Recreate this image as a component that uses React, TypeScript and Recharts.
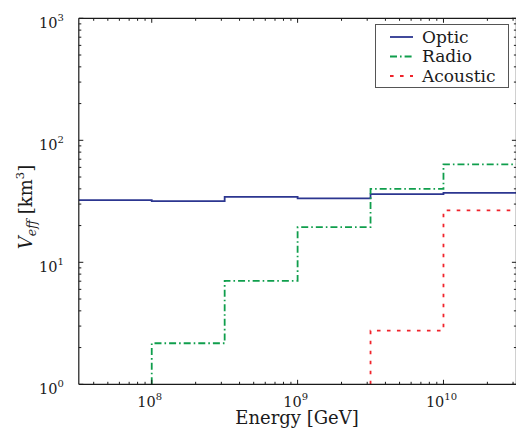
import { Customized, Legend, Line, LineChart, XAxis, YAxis } from "recharts";

// bin edges of the energy histogram [GeV]
const binEdges = [3.162e7, 1e8, 3.162e8, 1e9, 3.162e9, 1e10, 3.162e10];

// effective volume per bin [km^3], null = no entry
const opticVeff = [32.3, 31.7, 34.4, 33.4, 36.2, 37.1];
const radioVeff = [null, 2.17, 7.05, 19.4, 40.0, 63.4];
const acousticVeff = [null, null, null, null, 2.75, 26.6];

const xTicks = [
    4e7, 5e7, 6e7, 7e7, 8e7, 9e7, 1e8,
    2e8, 3e8, 4e8, 5e8, 6e8, 7e8, 8e8, 9e8, 1e9,
    2e9, 3e9, 4e9, 5e9, 6e9, 7e9, 8e9, 9e9, 1e10,
    2e10, 3e10,
];
const yTicks = [
    1, 2, 3, 4, 5, 6, 7, 8, 9,
    10, 20, 30, 40, 50, 60, 70, 80, 90,
    100, 200, 300, 400, 500, 600, 700, 800, 900, 1000,
];

const FONT = "'DejaVu Serif', 'Liberation Serif', serif";
const INK = "#1a1a1a";

const series = [
    { name: "Optic", values: opticVeff, color: "#2c3690", dash: undefined },
    { name: "Radio", values: radioVeff, color: "#0f9e4c", dash: "7 3 1.6 3" },
    { name: "Acoustic", values: acousticVeff, color: "#f0242c", dash: "3.6 6.4" },
];

type Pt = { e: number; v: number };

function toSteps(values: (number | null)[]): Pt[] {
    const pts: Pt[] = [];
    values.forEach((v, i) => {
        if (v == null) return;
        // vertical edge rising from the bottom of the plot
        if (pts.length === 0 && i > 0) pts.push({ e: binEdges[i], v: 1 });
        pts.push({ e: binEdges[i], v });
    });
    pts.push({ e: binEdges[binEdges.length - 1], v: pts[pts.length - 1].v });
    return pts;
}

const expOf = (v: number) => Math.round(Math.log10(v));
const isMajor = (v: number) => Math.abs(Math.log10(v) - expOf(v)) < 1e-6;

const Pow = ({ x, y, v, anchor }: { x: number; y: number; v: number; anchor: string }) => (
    <text x={x} y={y} textAnchor={anchor} style={{ fontFamily: FONT }} fontSize={14.5} fill={INK}>
        <tspan>10</tspan>
        <tspan dy={-7} fontSize={10}>{expOf(v)}</tspan>
    </text>
);

const BottomTick = (props: any) => {
    const { x, y, payload } = props;
    const major = isMajor(payload.value);
    return (
        <g>
            <line x1={x} x2={x} y1={y} y2={y - (major ? 4.5 : 2.5)} stroke={INK} />
            {major && <Pow x={x - 2} y={y + 22.2} v={payload.value} anchor="middle" />}
        </g>
    );
};

const TopTick = (props: any) => {
    const { x, y, payload } = props;
    const major = isMajor(payload.value);
    return <line x1={x} x2={x} y1={y} y2={y + (major ? 4.5 : 2.5)} stroke={INK} />;
};

const LeftTick = (props: any) => {
    const { x, y, payload } = props;
    const major = isMajor(payload.value);
    return (
        <g>
            <line x1={x} x2={x + (major ? 4.5 : 2.5)} y1={y} y2={y} stroke={INK} />
            {major && <Pow x={x - 15} y={y + 9.3} v={payload.value} anchor="end" />}
        </g>
    );
};

const RightTick = (props: any) => {
    const { x, y, payload } = props;
    const major = isMajor(payload.value);
    return <line x1={x} x2={x - (major ? 4.5 : 2.5)} y1={y} y2={y} stroke={INK} />;
};

const AxisTitles = () => (
    <g style={{ fontFamily: FONT }} fill={INK}>
        <text x={297} y={423.5} textAnchor="middle" fontSize={18}>Energy [GeV]</text>
        <text transform="translate(32,207) rotate(-90)" textAnchor="middle" fontSize={18}>
            <tspan fontStyle="italic">V</tspan>
            <tspan fontStyle="italic" fontSize={12.5} dy={4}>eff</tspan>
            <tspan dy={-4}> [km</tspan>
            <tspan fontSize={11.5} dy={-8}>3</tspan>
            <tspan dy={8}>]</tspan>
        </text>
    </g>
);

const LegendBox = () => (
    <svg width={134} height={64} style={{ display: "block" }}>
        <rect x={0.5} y={0.5} width={133} height={63} fill="#fff" stroke="#555" />
        {series.map((s, i) => {
            const cy = 13 + i * 19.5;
            return (
                <g key={s.name}>
                    <line x1={15} x2={38} y1={cy} y2={cy} stroke={s.color} strokeWidth={1.8} strokeDasharray={s.dash} />
                    <text x={47} y={cy + 5.5} style={{ fontFamily: FONT }} fontSize={17} fill={INK}>{s.name}</text>
                </g>
            );
        })}
    </svg>
);

const domainX = [binEdges[0], binEdges[binEdges.length - 1]];
const domainY = [1, 1000];

export default function App() {
    return (
        <div style={{ position: "fixed", left: 0, top: 0, width: 516, height: 432, overflow: "hidden", background: "#fff" }}>
            <LineChart width={530} height={432} margin={{ top: 0, right: 0, bottom: 0, left: 0 }}>
                <XAxis xAxisId="bottom" type="number" dataKey="e" scale="log" domain={domainX} allowDataOverflow
                    ticks={xTicks} interval={0} tickSize={0} tickMargin={0} tickLine={false} height={47.7}
                    axisLine={{ stroke: INK, strokeWidth: 1.2 }} tick={BottomTick} />
                <XAxis xAxisId="top" orientation="top" type="number" dataKey="e" scale="log" domain={domainX} allowDataOverflow
                    ticks={xTicks} interval={0} tickSize={0} tickMargin={0} tickLine={false} height={18.3}
                    axisLine={{ stroke: INK, strokeWidth: 1.2 }} tick={TopTick} />
                <YAxis yAxisId="left" type="number" dataKey="v" scale="log" domain={domainY} allowDataOverflow
                    ticks={yTicks} interval={0} tickSize={0} tickMargin={0} tickLine={false} width={78.8}
                    axisLine={{ stroke: INK, strokeWidth: 1.2 }} tick={LeftTick} />
                <YAxis yAxisId="right" orientation="right" type="number" dataKey="v" scale="log" domain={domainY} allowDataOverflow
                    ticks={yTicks} interval={0} tickSize={0} tickMargin={0} tickLine={false} width={13.6}
                    axisLine={{ stroke: INK, strokeWidth: 1.2 }} tick={RightTick} />
                {series.map((s) => (
                    <Line key={s.name} xAxisId="bottom" yAxisId="left" data={toSteps(s.values)} dataKey="v" name={s.name}
                        type="stepAfter" stroke={s.color} strokeWidth={1.8} strokeDasharray={s.dash}
                        dot={false} activeDot={false} isAnimationActive={false} />
                ))}
                <Legend layout="vertical" align="center" verticalAlign="middle" content={LegendBox}
                    wrapperStyle={{ left: 375, top: 24, width: 134, height: 64 }} />
                <Customized component={AxisTitles} />
            </LineChart>
        </div>
    );
}
